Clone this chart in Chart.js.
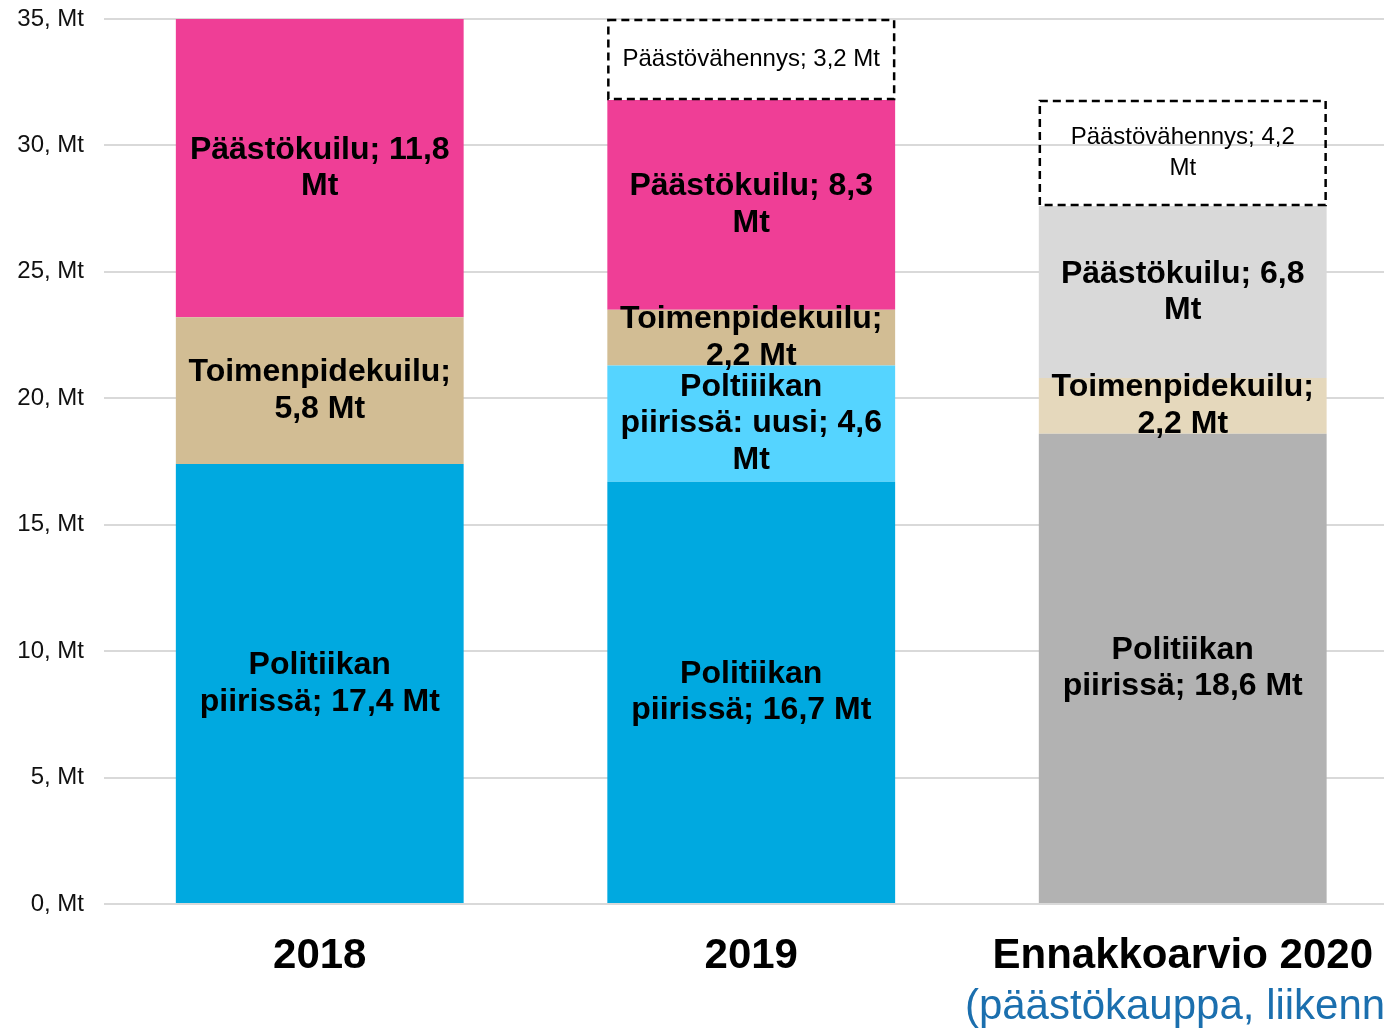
<!DOCTYPE html>
<html>
<head>
<meta charset="utf-8">
<script src="https://cdn.jsdelivr.net/npm/chart.js@4"></script>
<style>
  html, body { margin: 0; padding: 0; background: #fff; overflow: hidden; }
  #wrap { width: 1400px; height: 1029px; }
</style>
</head>
<body>
<div id="wrap"><canvas id="grafica"></canvas></div>
<script>
// Datos
const categorias = ['2018', '2019', 'Ennakkoarvio 2020'];
const subtitulo2020 = '(päästökauppa, liikenne)';
const politiikanPiirissa = [17.4, 16.7, 18.6];
const politiikanUusi = [0, 4.6, 0];
const toimenpidekuilu = [5.8, 2.2, 2.2];
const paastokuilu = [11.8, 8.3, 6.8];
const paastovahennys = [0, 3.2, 4.2];

// Etiquetas dentro de las barras
const etiquetasPolitiikka = ['Politiikan\npiirissä; 17,4 Mt', 'Politiikan\npiirissä; 16,7 Mt', 'Politiikan\npiirissä; 18,6 Mt'];
const etiquetasUusi = ['', 'Poltiiikan\npiirissä: uusi; 4,6\nMt', ''];
const etiquetasToimenpide = ['Toimenpidekuilu;\n5,8 Mt', 'Toimenpidekuilu;\n2,2 Mt', 'Toimenpidekuilu;\n2,2 Mt'];
const etiquetasPaastokuilu = ['Päästökuilu; 11,8\nMt', 'Päästökuilu; 8,3\nMt', 'Päästökuilu; 6,8\nMt'];
const etiquetasVahennys = ['', 'Päästövähennys; 3,2 Mt', 'Päästövähennys; 4,2\nMt'];

const FUENTE = '"Liberation Sans", Arial, sans-serif';

const datasets = [
  { label: 'Politiikan piirissä', data: politiikanPiirissa, backgroundColor: ['#00A9E0', '#00A9E0', '#B2B2B2'], etiquetas: etiquetasPolitiikka },
  { label: 'Politiikan piirissä: uusi', data: politiikanUusi, backgroundColor: '#55D4FF', etiquetas: etiquetasUusi },
  { label: 'Toimenpidekuilu', data: toimenpidekuilu, backgroundColor: ['#D2BD94', '#D2BD94', '#E5D8BC'], etiquetas: etiquetasToimenpide },
  { label: 'Päästökuilu', data: paastokuilu, backgroundColor: ['#EF3E96', '#EF3E96', '#D9D9D9'], etiquetas: etiquetasPaastokuilu },
  { label: 'Päästövähennys', data: paastovahennys, backgroundColor: 'rgba(255,255,255,0)', etiquetas: etiquetasVahennys, punteado: true }
];

// Plugin: bordes punteados, etiquetas y subtítulo
const etiquetasPlugin = {
  id: 'etiquetas',
  afterDatasetsDraw(chart) {
    const ctx = chart.ctx;
    chart.data.datasets.forEach((ds, i) => {
      const meta = chart.getDatasetMeta(i);
      meta.data.forEach((bar, j) => {
        if (!ds.data[j]) return;
        const top = Math.min(bar.y, bar.base);
        const bottom = Math.max(bar.y, bar.base);
        const left = bar.x - bar.width / 2;
        const right = bar.x + bar.width / 2;
        ctx.save();
        if (ds.punteado) {
          ctx.strokeStyle = '#000';
          ctx.lineWidth = 2.5;
          ctx.setLineDash([8, 5]);
          ctx.strokeRect(left + 1, top + 1, right - left - 2, bottom - top - 2);
          ctx.setLineDash([]);
        }
        const lineas = ds.etiquetas[j].split('\n');
        const alto = ds.punteado ? 31 : 36.5;
        ctx.font = (ds.punteado ? 'normal 24px ' : 'bold 32px ') + FUENTE;
        ctx.fillStyle = '#000';
        ctx.textAlign = 'center';
        ctx.textBaseline = 'middle';
        const centro = (top + bottom) / 2;
        lineas.forEach((l, k) => {
          ctx.fillText(l, bar.x, centro + (k - (lineas.length - 1) / 2) * alto);
        });
        ctx.restore();
      });
    });
    // subtítulo azul bajo la tercera categoría
    const x = chart.scales.x.getPixelForValue(2);
    ctx.save();
    ctx.font = 'normal 42px ' + FUENTE;
    ctx.fillStyle = '#1B6FAE';
    ctx.textAlign = 'center';
    ctx.textBaseline = 'middle';
    ctx.fillText(subtitulo2020, x + 11, 1007);
    ctx.restore();
  }
};

const ctx = document.getElementById('grafica').getContext('2d');
const myChart = new Chart(ctx, {
  type: 'bar',
  data: { labels: categorias, datasets: datasets },
  options: {
    responsive: true,
    maintainAspectRatio: false,
    animation: false,
    events: [],
    layout: { padding: { top: 19, right: 0, bottom: 0, left: 0 } },
    datasets: { bar: { categoryPercentage: 1, barPercentage: 0.667, borderWidth: 0 } },
    plugins: { legend: { display: false }, tooltip: { enabled: false } },
    scales: {
      x: {
        stacked: true,
        grid: { display: false, drawTicks: false },
        border: { display: false },
        ticks: { color: '#000', padding: 27, font: { family: FUENTE, size: 42, weight: 'bold' } },
        afterFit: scale => { scale.height = 125; }
      },
      y: {
        stacked: true,
        min: 0,
        max: 35,
        grid: { color: '#D9D9D9', lineWidth: 2, drawTicks: false },
        border: { display: false },
        ticks: {
          stepSize: 5,
          padding: 20,
          color: '#111',
          font: { family: FUENTE, size: 24 },
          callback: v => v + ', Mt'
        },
        afterFit: scale => {
          scale.width = 104;
          scale.paddingTop = 0;
          scale.paddingBottom = 0;
        }
      }
    }
  },
  plugins: [etiquetasPlugin]
});
</script>
</body>
</html>
